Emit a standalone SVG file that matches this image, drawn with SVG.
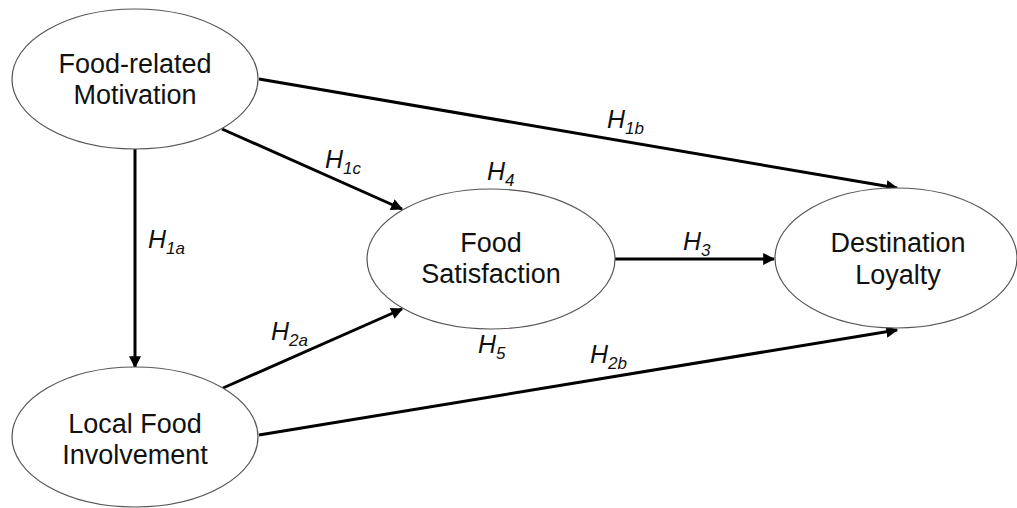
<svg xmlns="http://www.w3.org/2000/svg" width="1017" height="508" viewBox="0 0 1017 508">
<style>
.node{fill:#fff;stroke:#555;stroke-width:1.2}
.lbl{font-family:"Liberation Sans",Arial,sans-serif;font-size:27px;fill:#111;text-anchor:middle}
.h{font-family:"Liberation Sans",Arial,sans-serif;font-size:25px;font-style:italic;fill:#111}
.sub{font-size:17px}
.conn line{stroke:#000;stroke-width:3;marker-end:url(#ah)}
</style>
<defs>
<marker id="ah" viewBox="0 0 10 10" refX="9" refY="5" markerWidth="4" markerHeight="4" orient="auto" markerUnits="strokeWidth">
<path d="M0,0 L10,5 L0,10 z" fill="#000"/>
</marker>
</defs>
<rect width="1017" height="508" fill="#fff"/>
<g class="conn">
<line x1="135" y1="149" x2="135" y2="367"/>
<line x1="222" y1="129" x2="402" y2="209"/>
<line x1="223" y1="388" x2="402" y2="309"/>
<line x1="259" y1="79" x2="897" y2="188"/>
<line x1="259" y1="435" x2="897" y2="330"/>
<line x1="615" y1="259" x2="774" y2="259"/>
</g>
<g id="motivation">
<ellipse class="node" cx="135" cy="79" rx="123" ry="70"/>
<text class="lbl" x="135" y="73">Food-related</text>
<text class="lbl" x="135" y="104">Motivation</text>
</g>
<g id="involvement">
<ellipse class="node" cx="135" cy="437" rx="123" ry="70"/>
<text class="lbl" x="135" y="433">Local Food</text>
<text class="lbl" x="135" y="464">Involvement</text>
</g>
<g id="satisfaction">
<ellipse class="node" cx="491" cy="259" rx="124" ry="70"/>
<text class="lbl" x="491" y="252">Food</text>
<text class="lbl" x="491" y="283">Satisfaction</text>
</g>
<g id="loyalty">
<ellipse class="node" cx="896" cy="258" rx="121" ry="70"/>
<text class="lbl" x="898" y="252">Destination</text>
<text class="lbl" x="898" y="284">Loyalty</text>
</g>
<g id="labels">
<text class="h" x="148" y="248">H<tspan class="sub" dy="6">1a</tspan></text>
<text class="h" x="325" y="168">H<tspan class="sub" dy="6">1c</tspan></text>
<text class="h" x="271" y="340">H<tspan class="sub" dy="6">2a</tspan></text>
<text class="h" x="607" y="128">H<tspan class="sub" dy="6">1b</tspan></text>
<text class="h" x="487" y="180">H<tspan class="sub" dy="6">4</tspan></text>
<text class="h" x="478" y="353">H<tspan class="sub" dy="6">5</tspan></text>
<text class="h" x="590" y="363">H<tspan class="sub" dy="6">2b</tspan></text>
<text class="h" x="683" y="250">H<tspan class="sub" dy="6">3</tspan></text>
</g>
</svg>
